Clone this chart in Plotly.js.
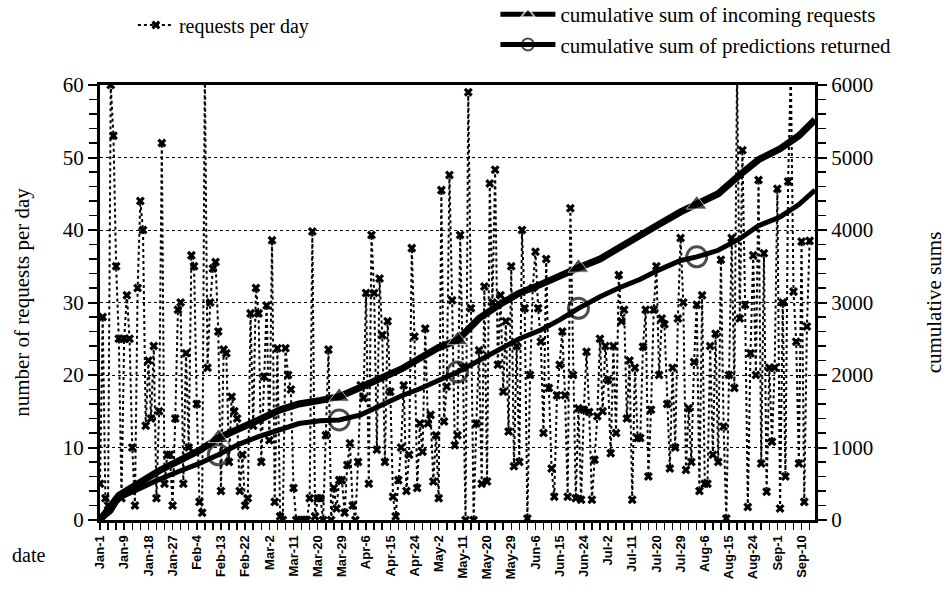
<!DOCTYPE html>
<html>
<head>
<meta charset="utf-8">
<script src="https://cdn.plot.ly/plotly-3.0.1.min.js"></script>
<style>html,body{margin:0;padding:0;background:#fff;}#chart{width:948px;height:598px;}</style>
</head>
<body>
<div id="chart"></div>
<script>
// Daily requests, one value per recorded day (category index = position in array)
const requestsPerDay = [
  5, 28, 3, 2, 60, 53, 35, 25, 3, 25, 31, 25, 10, 2, 32, 44, 40, 13, 22, 14,
  24, 3, 15, 52, 5, 9, 9, 2, 14, 29, 30, 5, 23, 10, 36.5, 35, 16, 2.5, 1, 62,
  21, 30, 34.7, 35.6, 26, 4, 23.5, 23, 8, 17, 15, 14, 4, 9, 2, 3, 28.5, 13, 32, 28.5,
  8, 19.8, 29.6, 11, 38.6, 2.5, 23.7, 0.5, 0, 23.7, 20, 18, 4.4, 0, 0, 0, 0, 0, 3, 39.8,
  0.5, 3, 3, 0, 11.7, 23.5, 0, 4.4, 1.6, 5.5, 5.5, 1, 7.6, 10.6, 2, 0, 8, 18.6, 16.8, 31.3,
  5, 39.3, 31.3, 9.7, 33.3, 25.5, 8, 27.4, 17.7, 3.2, 0.5, 5.5, 10, 18.6, 4, 9, 37.5, 25.3, 4.4, 13.3,
  9.4, 26.4, 13.3, 14.5, 5.3, 11.7, 3, 45.5, 13.6, 18.4, 47.6, 30.3, 10.3, 11.7, 39.3, 21, 0, 59, 29.2, 0,
  13.3, 23.4, 5, 32.2, 5.3, 46.4, 30, 48.3, 21.4, 31, 17.7, 27.4, 12.2, 35, 7.4, 24, 8, 40, 29.2, 0.2,
  20, 32, 37, 29.2, 24.6, 12, 36, 18.2, 7.1, 3.2, 17.2, 21.4, 26, 17.2, 3.2, 43, 20, 3, 15.4, 2.8,
  15.2, 23.2, 14.9, 2.8, 8.3, 14.3, 25, 15, 24, 19.3, 9.2, 24, 12, 33.8, 27.4, 29, 14, 22, 2.8, 21,
  11.3, 11.3, 23.9, 29, 6, 15.2, 29, 35, 20, 27.8, 27, 16, 7.1, 21, 10, 27.8, 38.9, 30, 6.9, 15.4,
  8, 21.8, 29.7, 4, 31, 5, 5, 24, 9, 25.7, 8, 35.9, 12.9, 0.2, 20, 38.9, 18.2, 62, 27.8, 51,
  29.7, 1.8, 23, 36.5, 20, 46.9, 7.8, 36.8, 3.9, 21, 10.8, 21, 45.7, 1.6, 30, 6, 46.7, 62, 31.5, 24.6,
  7.8, 38.4, 2.5, 26.7, 38.5
];

// Cumulative sums at sample days (category index)
const cumDays = [0, 4, 7, 15, 22, 30, 37, 44, 52, 59, 67, 74, 82, 89, 97, 104, 112, 119, 126, 133,
  141, 149, 156, 164, 171, 178, 186, 193, 201, 208, 216, 222, 230, 238, 245, 253, 260, 266];
const cumIncoming = [0, 200, 340, 520, 680, 830, 960, 1130, 1250, 1380, 1520, 1600, 1650, 1700, 1830, 1950, 2080, 2230, 2380, 2480,
  2780, 2980, 3130, 3250, 3370, 3480, 3600, 3760, 3920, 4080, 4250, 4350, 4500, 4760, 4970, 5120, 5300, 5520];
const cumPredictions = [0, 120, 300, 440, 560, 680, 780, 900, 1050, 1150, 1250, 1330, 1370, 1380, 1450, 1580, 1710, 1810, 1920, 2040,
  2200, 2350, 2500, 2620, 2760, 2920, 3080, 3200, 3320, 3450, 3580, 3630, 3720, 3880, 4060, 4180, 4350, 4550];
const markerDays = [44, 89, 133, 178, 222];

const tickLabels = ['Jan-1','Jan-9','Jan-18','Jan-27','Feb-4','Feb-13','Feb-22','Mar-2','Mar-11','Mar-20',
  'Mar-29','Apr-6','Apr-15','Apr-24','May-2','May-11','May-20','May-29','Jun-6','Jun-15',
  'Jun-24','Jul-2','Jul-11','Jul-20','Jul-29','Aug-6','Aug-15','Aug-24','Sep-1','Sep-10'];
const labelStep = 9;

const dayIdx = requestsPerDay.map((_, i) => i);
const tickVals = tickLabels.map((_, i) => i * labelStep);
const serif = 'Liberation Serif, Times New Roman, serif';

const traces = [
  {
    x: dayIdx, y: requestsPerDay, type: 'scatter', mode: 'lines+markers',
    name: 'requests per day', legend: 'legend',
    line: {color: '#000', width: 2, dash: 'dot'},
    marker: {symbol: 'x', size: 8, color: '#000'}
  },
  {
    x: cumDays, y: cumIncoming, yaxis: 'y2', type: 'scatter', mode: 'lines+markers',
    name: 'cumulative sum of incoming requests', legend: 'legend2',
    line: {color: '#000', width: 7},
    marker: {symbol: 'triangle-up', color: '#000',
      size: cumDays.map(d => markerDays.includes(d) ? 18 : 0)}
  },
  {
    x: cumDays, y: cumPredictions, yaxis: 'y2', type: 'scatter', mode: 'lines+markers',
    name: 'cumulative sum of predictions returned', legend: 'legend2',
    line: {color: '#000', width: 5},
    marker: {symbol: 'circle-open', color: '#000', line: {width: 3, color: '#000'},
      size: cumDays.map(d => markerDays.includes(d) ? 20 : 0)}
  }
];

const layout = {
  width: 948, height: 598,
  paper_bgcolor: '#fff', plot_bgcolor: '#fff',
  margin: {l: 100, r: 133, t: 85, b: 78, autoexpand: false},
  showlegend: true,
  font: {family: serif, color: '#000'},
  xaxis: {
    range: [0, 266], tickmode: 'array', tickvals: tickVals, ticktext: tickLabels,
    tickangle: -90, ticks: 'outside', ticklen: 7, tickwidth: 1.5, tickcolor: '#000',
    minor: {tick0: 0, dtick: 3, ticks: 'outside', ticklen: 7, tickwidth: 1.5, tickcolor: '#000'},
    showline: true, linewidth: 3, linecolor: '#000', mirror: true,
    showgrid: false, zeroline: false,
    tickfont: {family: 'Liberation Sans, Arial, sans-serif', size: 13, weight: 'bold', color: '#000'}
  },
  yaxis: {
    range: [0, 60], dtick: 10, ticks: 'outside', ticklen: 9, tickwidth: 2, tickcolor: '#000',
    minor: {dtick: 2, ticks: 'outside', ticklen: 8, tickwidth: 1.5, tickcolor: '#000', showgrid: false},
    showgrid: true, gridcolor: '#000', gridwidth: 1, griddash: 'dot',
    showline: true, linewidth: 3, linecolor: '#000', zeroline: false,
    tickfont: {family: serif, size: 21, color: '#000'},
    title: {text: 'number of requests per day', font: {family: serif, size: 21, color: '#000'}, standoff: 28}
  },
  yaxis2: {
    overlaying: 'y', side: 'right', range: [0, 6000], dtick: 1000,
    ticks: 'outside', ticklen: 9, tickwidth: 2, tickcolor: '#000',
    minor: {dtick: 200, ticks: 'outside', ticklen: 8, tickwidth: 1.5, tickcolor: '#000'},
    showgrid: false, zeroline: false,
    showline: true, linewidth: 3, linecolor: '#000',
    tickfont: {family: serif, size: 21, color: '#000'},
    title: {text: 'cumulative sums', font: {family: serif, size: 21, color: '#000'}, standoff: 55}
  },
  legend: {
    x: 0.046, y: 1.138, xanchor: 'left', yanchor: 'middle',
    bgcolor: 'rgba(0,0,0,0)', itemwidth: 36,
    font: {family: serif, size: 20, color: '#000'}
  },
  legend2: {
    x: 0.553, y: 1.209, xanchor: 'left', yanchor: 'top',
    bgcolor: 'rgba(0,0,0,0)', itemwidth: 55, itemsizing: 'constant', tracegroupgap: 0,
    font: {family: serif, size: 21, color: '#000'}
  },
  annotations: [
    {text: 'date', xref: 'paper', yref: 'paper', x: -0.1, y: -0.08, xanchor: 'center', yanchor: 'middle',
     showarrow: false, font: {family: serif, size: 20, color: '#000'}}
  ]
};

Plotly.newPlot('chart', traces, layout, {displayModeBar: false, staticPlot: true});
</script>
</body>
</html>
